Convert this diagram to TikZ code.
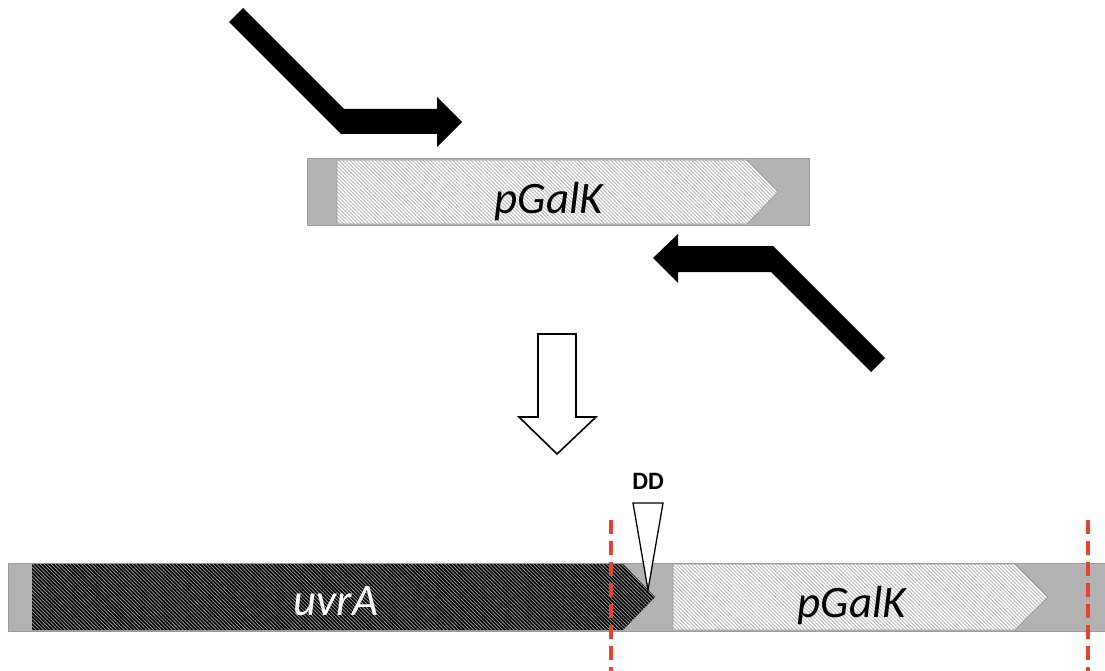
\documentclass[tikz,border=0pt]{standalone}
\usepackage{fontspec}
\newfontfamily\calibri{Carlito}
\usetikzlibrary{patterns.meta}
\definecolor{bargray}{HTML}{B3B3B3}
\definecolor{bargrayedge}{HTML}{9A9A9A}
\definecolor{hatchgray}{HTML}{B8B8B8}
\definecolor{cutred}{HTML}{E8412E}
\tikzset{
  backbone/.style={fill=bargray, draw=bargrayedge, line width=1pt},
  lightgene/.style={preaction={fill=white}, pattern={Lines[angle=-45,distance=2.6pt,line width=0.9pt]}, pattern color=hatchgray, draw=bargrayedge, line width=0.8pt},
  darkgene/.style={preaction={fill=black}, pattern={Lines[angle=-45,distance=2.6pt,line width=0.7pt]}, pattern color=gray!70, draw=none},
  primer/.style={fill=black, draw=none},
  genelabel/.style={font=\calibri\itshape\fontsize{45}{45}\selectfont, anchor=base, inner sep=0pt},
  cutline/.style={draw=cutred, line width=3.5pt, dash pattern=on 14pt off 7pt},
  hollowarrow/.style={fill=white, draw=black, line width=1.6pt, line join=miter},
}
\begin{document}
\begin{tikzpicture}[x=1pt, y=-1pt]
\useasboundingbox (0,0) rectangle (1105,671);

% ---- plasmid template with primers ----
\path[backbone] (307,159) rectangle (809,225);
\path[lightgene] (337,160) -- (747,160) -- (778,192) -- (747,224) -- (337,224) -- cycle;
\node[genelabel] (topgalk) at (549,213) {pGalK};

% forward primer
\path[primer] (229,22) -- (243,8) -- (344,109) -- (437,109) -- (437,97) -- (462,122)
  -- (437,147) -- (437,134) -- (341,134) -- cycle;
% reverse primer
\path[primer] (653,258) -- (678,234) -- (678,246) -- (773,246) -- (885,358) -- (871,372)
  -- (771,272) -- (678,272) -- (678,283) -- cycle;

% ---- insertion step ----
\path[hollowarrow] (538,334) -- (576,334) -- (576,417) -- (596,417) -- (557,454)
  -- (519,417) -- (538,417) -- cycle;

% ---- recombined locus ----
\path[backbone] (8,563) rectangle (1110,631);
\path[darkgene] (32,564) -- (623,564) -- (655,597) -- (623,630) -- (32,630) -- cycle;
\path[lightgene] (673,564) -- (1015,564) -- (1048,597) -- (1015,630) -- (673,630) -- cycle;
\node[genelabel, text=white] (uvra) at (336,615) {uvrA};
\node[genelabel] (botgalk) at (852,617) {pGalK};

% cut sites
\coordinate (cutAtop) at (611,520);
\coordinate (cutAbot) at (611,675);
\coordinate (cutBtop) at (1088,520);
\coordinate (cutBbot) at (1088,675);
\draw[cutline] (cutAtop) -- (cutAbot);
\draw[cutline] (cutBtop) -- (cutBbot);

% DD insertion marker
\path[fill=white, draw=black, line width=1.3pt, line join=miter] (633,503) -- (663,503) -- (648,590) -- cycle;
\node[font=\calibri\bfseries\fontsize{25}{25}\selectfont, anchor=base, inner sep=0pt] (dd) at (648,489) {DD};
\end{tikzpicture}
\end{document}
